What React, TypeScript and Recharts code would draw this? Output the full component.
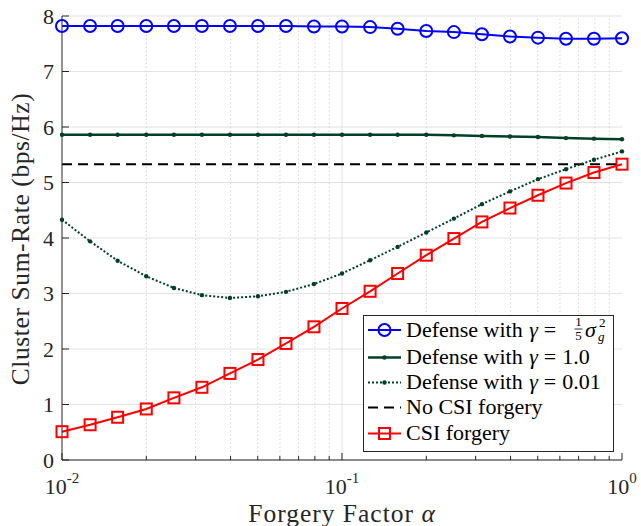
import { CartesianGrid, ComposedChart, Legend, Line, ReferenceLine, XAxis, YAxis } from "recharts";

// forgery factor alpha, 10 points per decade
const ALPHA = [0.01, 0.0126, 0.0158, 0.02, 0.0251, 0.0316, 0.0398, 0.0501, 0.0631, 0.0794,
  0.1, 0.126, 0.158, 0.2, 0.251, 0.316, 0.398, 0.501, 0.631, 0.794, 1];

const DEF_SIGMA = [7.82, 7.82, 7.82, 7.82, 7.82, 7.82, 7.82, 7.82, 7.82, 7.81,
  7.81, 7.80, 7.77, 7.73, 7.71, 7.67, 7.63, 7.61, 7.59, 7.59, 7.60];
const DEF_ONE = [5.86, 5.86, 5.86, 5.86, 5.86, 5.86, 5.86, 5.86, 5.86, 5.86,
  5.86, 5.86, 5.86, 5.86, 5.85, 5.84, 5.83, 5.82, 5.80, 5.79, 5.78];
const DEF_SMALL = [4.33, 3.94, 3.59, 3.31, 3.10, 2.97, 2.92, 2.95, 3.03, 3.17,
  3.36, 3.60, 3.84, 4.10, 4.35, 4.61, 4.84, 5.06, 5.24, 5.41, 5.56];
const NO_FORGERY = [5.33, 5.33, 5.33, 5.33, 5.33, 5.33, 5.33, 5.33, 5.33, 5.33,
  5.33, 5.33, 5.33, 5.33, 5.33, 5.33, 5.33, 5.33, 5.33, 5.33, 5.33];
const FORGERY = [0.51, 0.635, 0.77, 0.92, 1.12, 1.31, 1.56, 1.81, 2.10, 2.40,
  2.73, 3.04, 3.36, 3.69, 3.99, 4.29, 4.54, 4.77, 4.99, 5.18, 5.33];

const X_MAJOR = [0.01, 0.1, 1];
const X_MINOR = [0.02, 0.03, 0.04, 0.05, 0.06, 0.07, 0.08, 0.09,
  0.2, 0.3, 0.4, 0.5, 0.6, 0.7, 0.8, 0.9];
const X_TICKS = [...X_MAJOR, ...X_MINOR].sort((a, b) => a - b);
const Y_TICKS = [0, 1, 2, 3, 4, 5, 6, 7, 8];

const BLUE = "#0000ff";
const GREEN = "#004026";
const RED = "#ff0000";
const AXIS = "#262626";
const GRID = "#e2e2e2";
const FONT = "Liberation Serif, Times New Roman, Tinos, DejaVu Serif, serif";

const data = ALPHA.map((a, i) => ({
  alpha: a, sigma: DEF_SIGMA[i], one: DEF_ONE[i], small: DEF_SMALL[i],
  none: NO_FORGERY[i], forged: FORGERY[i],
}));

const isMajor = (v: number) => X_MAJOR.some(m => Math.abs(m - v) < 1e-9);

// MATLAB-style inward ticks; labels as 10^k
function BottomTick({ x, y, payload }: any) {
  const v = payload.value;
  const major = isMajor(v);
  return (
    <g>
      <line x1={x} x2={x} y1={y} y2={y - (major ? 7 : 4)} stroke={AXIS} />
      {major && (
        <text x={x} y={y + 34} textAnchor="middle" fill={AXIS} style={{ fontFamily: FONT, fontSize: 22 }}>
          10<tspan dy={-11} style={{ fontSize: 15 }}>{Math.round(Math.log10(v))}</tspan>
        </text>
      )}
    </g>
  );
}

function TopTick({ x, y, payload }: any) {
  const major = isMajor(payload.value);
  return <line x1={x} x2={x} y1={y} y2={y + (major ? 7 : 4)} stroke={AXIS} />;
}

function LeftTick({ x, y, payload }: any) {
  return (
    <g>
      <line x1={x} x2={x + 7} y1={y} y2={y} stroke={AXIS} />
      <text x={x - 8} y={y} textAnchor="end" dominantBaseline="central" fill={AXIS}
        style={{ fontFamily: FONT, fontSize: 22 }}>
        {payload.value}
      </text>
    </g>
  );
}

function RightTick({ x, y }: any) {
  return <line x1={x} x2={x - 7} y1={y} y2={y} stroke={AXIS} />;
}

const Square = (p: any) => (
  <rect key={`sq-${p.index}`} x={p.cx - 5.5} y={p.cy - 5.5} width={11} height={11}
    fill="none" stroke={RED} strokeWidth={2} />
);

function LegendBox() {
  const rows = [15, 42.5, 67.5, 92.5, 118.5];
  const x1 = 5, x2 = 38, mx = 21.5, tx = 43;
  const base = (r: number) => rows[r] + 6.5;
  const big = { fontFamily: FONT, fontSize: 22 };
  const small = { fontFamily: FONT, fontSize: 13 };
  return (
    <svg width={251} height={137} style={{ display: "block" }}>
      <rect x={0.5} y={0.5} width={250} height={136} fill="#fff" stroke={AXIS} />

      <line x1={x1} x2={x2} y1={rows[0]} y2={rows[0]} stroke={BLUE} strokeWidth={2} />
      <circle cx={mx} cy={rows[0]} r={6} fill="none" stroke={BLUE} strokeWidth={2} />
      <text x={tx} y={base(0)} style={big}>
        Defense with <tspan dx={1} fontStyle="italic">γ</tspan><tspan dx={6}>=</tspan>
      </text>
      {/* 1/5 sigma_g^2 */}
      <text x={215.5} y={11} textAnchor="middle" style={small}>1</text>
      <line x1={211.5} x2={219.5} y1={14} y2={14} stroke="#000" strokeWidth={0.8} />
      <text x={215.5} y={25} textAnchor="middle" style={small}>5</text>
      <text x={222} y={base(0)} fontStyle="italic" style={big}>σ</text>
      <text x={236} y={11.5} style={small}>2</text>
      <text x={235} y={26} fontStyle="italic" style={small}>g</text>

      <line x1={x1} x2={x2} y1={rows[1]} y2={rows[1]} stroke={GREEN} strokeWidth={2.5} />
      <circle cx={mx} cy={rows[1]} r={2.2} fill={GREEN} />
      <text x={tx} y={base(1)} style={big}>
        Defense with <tspan dx={1} fontStyle="italic">γ</tspan><tspan dx={6}>=</tspan><tspan dx={6}>1.0</tspan>
      </text>

      <line x1={x1} x2={x2} y1={rows[2]} y2={rows[2]} stroke={GREEN} strokeWidth={2} strokeDasharray="2 2" />
      <circle cx={mx} cy={rows[2]} r={2.2} fill={GREEN} />
      <text x={tx} y={base(2)} style={big}>
        Defense with <tspan dx={1} fontStyle="italic">γ</tspan><tspan dx={6}>=</tspan><tspan dx={6}>0.01</tspan>
      </text>

      <line x1={x1} x2={x2} y1={rows[3]} y2={rows[3]} stroke="#000" strokeWidth={2} strokeDasharray="10 6" />
      <text x={tx} y={base(3)} style={big}>No CSI forgery</text>

      <line x1={x1} x2={x2} y1={rows[4]} y2={rows[4]} stroke={RED} strokeWidth={2} />
      <rect x={mx - 5.5} y={rows[4] - 5.5} width={11} height={11} fill="none" stroke={RED} strokeWidth={2} />
      <text x={tx} y={base(4)} style={big}>CSI forgery</text>
    </svg>
  );
}

const XTitle = (props: any) => {
  const vb = props.viewBox ?? { x: 62, y: 460, width: 560 };
  return (
    <text x={vb.x + vb.width / 2} y={vb.y + 61.5} textAnchor="middle" fill={AXIS}
      style={{ fontFamily: FONT, fontSize: 25.5, letterSpacing: 1 }}>
      Forgery Factor <tspan fontStyle="italic">α</tspan>
    </text>
  );
};

// plot spans y 16..460, title centred on it
const YTitle = () => {
  const cx = 29, cy = 239;
  return (
    <text x={cx} y={cy} transform={`rotate(-90 ${cx} ${cy})`} textAnchor="middle" fill={AXIS}
      style={{ fontFamily: FONT, fontSize: 25.5, letterSpacing: 0.6 }}>
      Cluster Sum-Rate (bps/Hz)
    </text>
  );
};

export default function App() {
  return (
    <div style={{ position: "absolute", left: 0, top: 0, width: 641, height: 526, background: "#fff", fontFamily: FONT }}>
      <ComposedChart width={641} height={526} data={data}
        margin={{ top: 16, right: 19, bottom: 0, left: 0 }}>
        <CartesianGrid vertical={false} stroke={GRID} />
        {X_MINOR.map(v => (
          <ReferenceLine key={v} x={v} stroke="#d4d4d4" strokeDasharray="1.5 2.5" />
        ))}
        <ReferenceLine x={0.1} stroke={GRID} />

        <XAxis dataKey="alpha" type="number" scale="log" domain={[0.01, 1]} ticks={X_TICKS}
          interval={0} height={66} tickSize={0} tickMargin={0} tick={<BottomTick />}
          stroke={AXIS} label={XTitle} />
        <XAxis xAxisId="top" orientation="top" dataKey="alpha" type="number" scale="log"
          domain={[0.01, 1]} ticks={X_TICKS} interval={0} height={0} tickSize={0} tickMargin={0}
          tick={<TopTick />} stroke={AXIS} />
        <YAxis type="number" domain={[0, 8]} ticks={Y_TICKS} interval={0} width={62}
          tickSize={0} tickMargin={0} tick={<LeftTick />} stroke={AXIS} label={YTitle} />
        <YAxis yAxisId="right" orientation="right" type="number" domain={[0, 8]} ticks={Y_TICKS}
          interval={0} width={0} tickSize={0} tickMargin={0} tick={<RightTick />} stroke={AXIS} />

        <Line type="linear" dataKey="none" stroke="#000" strokeWidth={2} strokeDasharray="10 6"
          dot={false} isAnimationActive={false} />
        <Line type="linear" dataKey="small" stroke={GREEN} strokeWidth={2} strokeDasharray="2 2"
          dot={{ r: 2.2, fill: GREEN, strokeWidth: 0 }} isAnimationActive={false} />
        <Line type="linear" dataKey="one" stroke={GREEN} strokeWidth={2.5}
          dot={{ r: 2.2, fill: GREEN, strokeWidth: 0 }} isAnimationActive={false} />
        <Line type="linear" dataKey="forged" stroke={RED} strokeWidth={2} dot={Square}
          isAnimationActive={false} />
        <Line type="linear" dataKey="sigma" stroke={BLUE} strokeWidth={2}
          dot={{ r: 6, fill: "none", stroke: BLUE, strokeWidth: 2 }} isAnimationActive={false} />

        <Legend content={() => <LegendBox />} layout="horizontal" verticalAlign="middle" align="center"
          wrapperStyle={{ left: 363, top: 315, width: 251, height: 137 }} />
      </ComposedChart>
    </div>
  );
}
